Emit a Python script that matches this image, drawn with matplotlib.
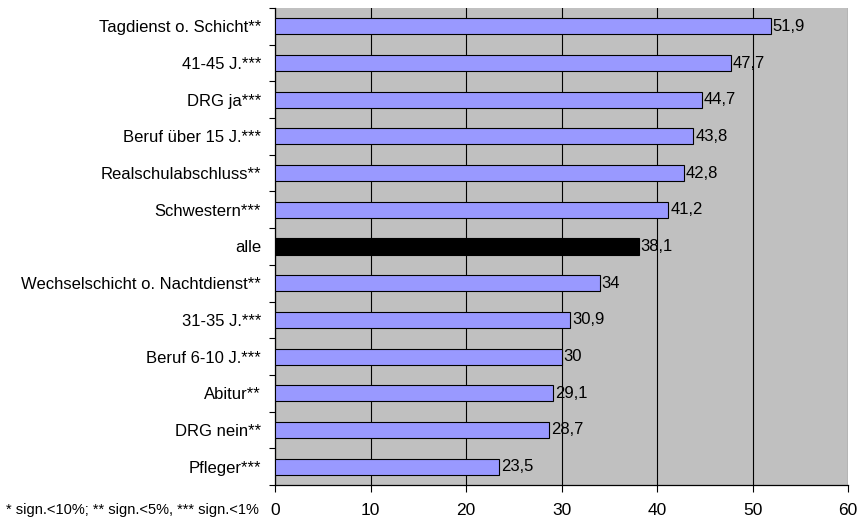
import matplotlib.pyplot as plt
import numpy as np

plt.rcParams['font.family'] = ['Liberation Sans', 'DejaVu Sans']

categories = ['Tagdienst o. Schicht**', '41-45 J.***', 'DRG ja***', 'Beruf über 15 J.***',
              'Realschulabschluss**', 'Schwestern***', 'alle',
              'Wechselschicht o. Nachtdienst**', '31-35 J.***', 'Beruf 6-10 J.***',
              'Abitur**', 'DRG nein**', 'Pfleger***']
values = [51.9, 47.7, 44.7, 43.8, 42.8, 41.2, 38.1, 34, 30.9, 30, 29.1, 28.7, 23.5]
value_labels = ['51,9', '47,7', '44,7', '43,8', '42,8', '41,2', '38,1', '34', '30,9',
                '30', '29,1', '28,7', '23,5']
xticks = [0, 10, 20, 30, 40, 50, 60]

fig = plt.figure(figsize=(8.6, 5.24), dpi=100)
ax = fig.add_axes([275 / 860, 1 - 485 / 524, 573 / 860, 477 / 524])
ax.set_facecolor('#C0C0C0')

n = len(categories)
y = np.arange(n)[::-1]
colors = ['black' if c == 'alle' else '#9999FF' for c in categories]

ax.set_axisbelow(True)
ax.xaxis.grid(True, color='black', linewidth=0.8)
ax.barh(y, values, height=0.44, color=colors, edgecolor='black', linewidth=0.8, zorder=3)

for yi, v, lab in zip(y, values, value_labels):
    ax.text(v + 0.2, yi, lab, va='center', ha='left', fontsize=12, zorder=4)

ax.set_xlim(0, 60)
ax.set_ylim(-0.5, n - 0.5)
ax.set_xticks(xticks)
ax.set_yticks(y)
ax.set_yticklabels(categories, fontsize=12)
ax.set_yticks(np.arange(n + 1) - 0.5, minor=True)
ax.tick_params(axis='y', which='major', length=0, pad=10)
ax.tick_params(axis='y', which='minor', length=4, width=0.8, direction='out')
ax.tick_params(axis='x', length=5, width=0.8, labelsize=12.5, pad=8)

for s in ['top', 'right']:
    ax.spines[s].set_visible(False)
for s in ['left', 'bottom']:
    ax.spines[s].set_linewidth(0.9)

fig.text(6 / 860, 1 - 510 / 524, '* sign.<10%; ** sign.<5%, *** sign.<1%', fontsize=10.5,
         va='center', ha='left')

fig.savefig('out.png', dpi=100)
